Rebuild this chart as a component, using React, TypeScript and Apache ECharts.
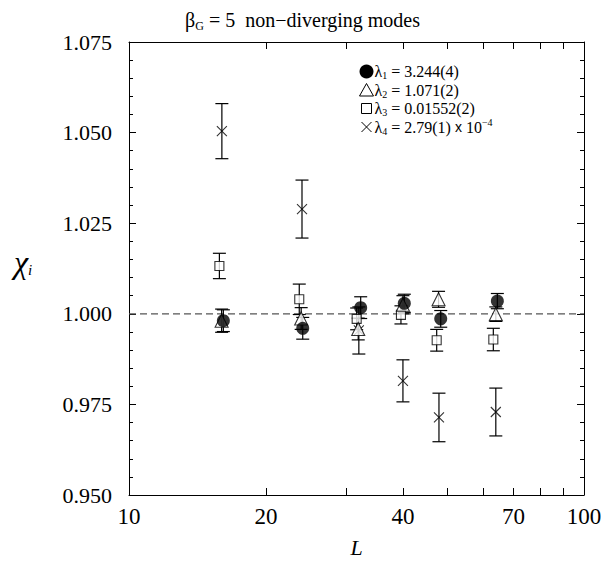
import React, { useEffect, useRef } from 'react';
import * as echarts from 'echarts';

// Lattice sizes L (each symbol slightly offset as in the original)
const circleL = [16.12, 24.09, 32.3, 40.28, 48.43, 64.5];
const circleVal = [0.9981, 0.996, 1.0017, 1.0029, 0.9986, 1.0035];
const circleErr = [0.003, 0.003, 0.003, 0.0025, 0.0023, 0.0021];

const triL = [15.98, 23.9, 31.9, 40.0, 47.9, 64.0];
const triVal = [0.9981, 0.9987, 0.9958, 1.0025, 1.004, 0.9999];
const triErr = [0.0032, 0.003, 0.003, 0.0025, 0.0022, 0.002];

const sqL = [15.8, 23.67, 31.65, 39.6, 47.45, 63.2];
const sqVal = [1.0132, 1.004, 0.9986, 0.9997, 0.9927, 0.9929];
const sqErr = [0.0035, 0.0042, 0.003, 0.0025, 0.003, 0.0031];

const crossL = [16, 24, 32, 40, 48, 64];
const crossVal = [1.0504, 1.0289, 0.9954, 0.9815, 0.9714, 0.9729];
const crossErr = [0.0076, 0.008, 0.0065, 0.0058, 0.0067, 0.0066];

const xLabelValues = [10, 20, 40, 70, 100];
const xTickValues = [20, 30, 40, 50, 60, 70, 80, 90];

const legendLabels = [
  { sub: '1', text: ' = 3.244(4)', sup: '' },
  { sub: '2', text: ' = 1.071(2)', sup: '' },
  { sub: '3', text: ' = 0.01552(2)', sup: '' },
  { sub: '4', text: ' = 2.79(1) ', sup: '−4' },
];

const SERIF = "'Liberation Serif', 'Times New Roman', serif";
const SANS = "'Liberation Sans', Arial, sans-serif";

function pts(L: number[], v: number[]) {
  return L.map((l, i) => [l, v[i]]);
}
function errPts(L: number[], v: number[], e: number[]) {
  return L.map((l, i) => [l, v[i], e[i]]);
}

const errRender = (params: any, api: any) => {
  const x = api.value(0);
  const y = api.value(1);
  const e = api.value(2);
  const top = api.coord([x, y + e]);
  const bot = api.coord([x, y - e]);
  const hw = 6.5;
  const st = { stroke: '#000', lineWidth: 1.2 };
  return {
    type: 'group',
    children: [
      { type: 'line', shape: { x1: top[0], y1: top[1], x2: bot[0], y2: bot[1] }, style: st },
      { type: 'line', shape: { x1: top[0] - hw, y1: top[1], x2: top[0] + hw, y2: top[1] }, style: st },
      { type: 'line', shape: { x1: bot[0] - hw, y1: bot[1], x2: bot[0] + hw, y2: bot[1] }, style: st },
    ],
  };
};

const ROW = 18.5;
const richLegend = {
  m: { fontSize: 16, fontFamily: SERIF, lineHeight: ROW, color: '#000' },
  s: { fontSize: 10, fontFamily: SERIF, lineHeight: 12, verticalAlign: 'bottom', color: '#000' },
  x: { fontSize: 14, fontFamily: SANS, lineHeight: ROW, color: '#000' },
  p: { fontSize: 10, fontFamily: SERIF, lineHeight: 12, verticalAlign: 'top', color: '#000' },
};

export default function App() {
  const ref = useRef<HTMLDivElement>(null);
  useEffect(() => {
    if (!ref.current) return;
    const chart = echarts.init(ref.current, null, { renderer: 'svg' });
    const legendX = 366.5;
    const firstRow = 71.5;
    const rowsY = [0, 1, 2, 3].map((i) => firstRow + i * ROW);
    const legendText = legendLabels
      .map((lab) => {
        let t = `{m|λ}{s|${lab.sub}}{m|${lab.text}}`;
        if (lab.sup) t += `{x|x}{m| 10}{p|${lab.sup}}`;
        return t;
      })
      .join('\n');
    const option: any = {
      animation: false,
      backgroundColor: '#fff',
      title: {
        text: '{b|β}{s|G}{t| = 5  non−diverging modes}',
        left: 'center',
        top: 3,
        textStyle: {
          fontWeight: 'normal',
          rich: {
            b: { fontSize: 20, fontFamily: SERIF, fontWeight: 'normal', lineHeight: 24, color: '#000' },
            s: { fontSize: 12, fontFamily: SERIF, fontWeight: 'normal', lineHeight: 12, verticalAlign: 'bottom', color: '#000' },
            t: { fontSize: 20, fontFamily: SERIF, fontWeight: 'normal', lineHeight: 24, color: '#000' },
          },
        },
      },
      grid: { left: 129, top: 42, width: 455, height: 460 },
      xAxis: [
        {
          type: 'log',
          logBase: 10,
          min: 10,
          max: 100,
          position: 'bottom',
          name: 'L',
          nameLocation: 'middle',
          nameGap: 41,
          nameTextStyle: { fontFamily: SERIF, fontStyle: 'italic', fontSize: 22, color: '#000' },
          axisLine: { lineStyle: { color: '#000', width: 1 } },
          axisTick: { inside: true, length: 7, customValues: xTickValues, lineStyle: { color: '#000' } },
          axisLabel: {
            customValues: xLabelValues,
            margin: 10,
            fontFamily: SERIF,
            fontSize: 23,
            color: '#000',
            formatter: (v: number) => String(Math.round(v)),
          },
          splitLine: { show: false },
          minorTick: { show: false },
        },
        {
          type: 'log',
          logBase: 10,
          min: 10,
          max: 100,
          position: 'top',
          axisLine: { lineStyle: { color: '#000', width: 1 } },
          axisTick: { inside: true, length: 7, customValues: xTickValues, lineStyle: { color: '#000' } },
          axisLabel: { show: false },
          splitLine: { show: false },
        },
      ],
      yAxis: [
        {
          type: 'value',
          min: 0.95,
          max: 1.075,
          interval: 0.025,
          position: 'left',
          axisLine: { show: true, lineStyle: { color: '#000', width: 1 } },
          axisTick: { inside: true, length: 7, lineStyle: { color: '#000' } },
          minorTick: { show: true, splitNumber: 5, length: 4, lineStyle: { color: '#000' } },
          axisLabel: {
            margin: 17,
            fontFamily: SERIF,
            fontSize: 22,
            color: '#000',
            formatter: (v: number) => v.toFixed(3),
          },
          splitLine: { show: false },
        },
        {
          type: 'value',
          min: 0.95,
          max: 1.075,
          interval: 0.025,
          position: 'right',
          axisLine: { show: true, lineStyle: { color: '#000', width: 1 } },
          axisTick: { inside: true, length: 7, lineStyle: { color: '#000' } },
          minorTick: { show: true, splitNumber: 5, length: 4, lineStyle: { color: '#000' } },
          axisLabel: { show: false },
          splitLine: { show: false },
        },
      ],
      graphic: [
        {
          type: 'text',
          x: 23,
          y: 262,
          style: {
            text: '{c|χ}{i|i}',
            align: 'center',
            verticalAlign: 'middle',
            rich: {
              c: { fontSize: 32, fontFamily: SERIF, fontStyle: 'italic', lineHeight: 30, color: '#000' },
              i: { fontSize: 15, fontFamily: SERIF, fontStyle: 'italic', lineHeight: 18, verticalAlign: 'bottom', color: '#000' },
            },
          },
        },
        { type: 'circle', shape: { cx: legendX, cy: rowsY[0], r: 7 }, style: { fill: '#000' } },
        {
          type: 'polygon',
          shape: { points: [[legendX, rowsY[1] - 6.5], [legendX - 7, rowsY[1] + 6], [legendX + 7, rowsY[1] + 6]] },
          style: { fill: '#fff', stroke: '#000', lineWidth: 1 },
        },
        {
          type: 'rect',
          shape: { x: legendX - 5, y: rowsY[2] - 5, width: 10, height: 10 },
          style: { fill: '#fff', stroke: '#000', lineWidth: 1 },
        },
        {
          type: 'line',
          shape: { x1: legendX - 5, y1: rowsY[3] - 5, x2: legendX + 5, y2: rowsY[3] + 5 },
          style: { stroke: '#000', lineWidth: 1 },
        },
        {
          type: 'line',
          shape: { x1: legendX + 5, y1: rowsY[3] - 5, x2: legendX - 5, y2: rowsY[3] + 5 },
          style: { stroke: '#000', lineWidth: 1 },
        },
        {
          type: 'text',
          x: 374.5,
          y: firstRow - ROW / 2,
          style: { text: legendText, rich: richLegend, verticalAlign: 'top', align: 'left' },
        },
      ],
      series: [
        {
          type: 'line',
          data: [[10, 1], [100, 1]],
          symbol: 'none',
          lineStyle: { color: '#555', width: 1.3, type: [7, 4] },
          z: 1,
          silent: true,
        },
        { type: 'custom', name: 'err1', data: errPts(circleL, circleVal, circleErr), renderItem: errRender, z: 2 },
        { type: 'custom', name: 'err2', data: errPts(triL, triVal, triErr), renderItem: errRender, z: 2 },
        { type: 'custom', name: 'err3', data: errPts(sqL, sqVal, sqErr), renderItem: errRender, z: 2 },
        { type: 'custom', name: 'err4', data: errPts(crossL, crossVal, crossErr), renderItem: errRender, z: 2 },
        {
          type: 'scatter',
          name: 'λ4',
          data: pts(crossL, crossVal),
          symbol: 'path://M0,0L10,10M10,0L0,10',
          symbolSize: 10,
          itemStyle: { color: 'rgba(0,0,0,0)', borderColor: '#000', borderWidth: 1.1 },
          z: 3,
        },
        {
          type: 'scatter',
          name: 'λ3',
          data: pts(sqL, sqVal),
          symbol: 'rect',
          symbolSize: 9,
          itemStyle: { color: '#fff', borderColor: '#000', borderWidth: 1.1 },
          z: 3,
        },
        {
          type: 'scatter',
          name: 'λ2',
          data: pts(triL, triVal),
          symbol: 'triangle',
          symbolSize: [13, 13],
          itemStyle: { color: '#fff', borderColor: '#000', borderWidth: 1.1 },
          z: 3,
        },
        {
          type: 'scatter',
          name: 'λ1',
          data: pts(circleL, circleVal),
          symbol: 'circle',
          symbolSize: 13,
          itemStyle: { color: '#000' },
          z: 3,
        },
      ],
    };
    chart.setOption(option);
    return () => chart.dispose();
  }, []);
  return <div ref={ref} style={{ width: 605, height: 563, position: 'absolute', left: 0, top: 0 }} />;
}
